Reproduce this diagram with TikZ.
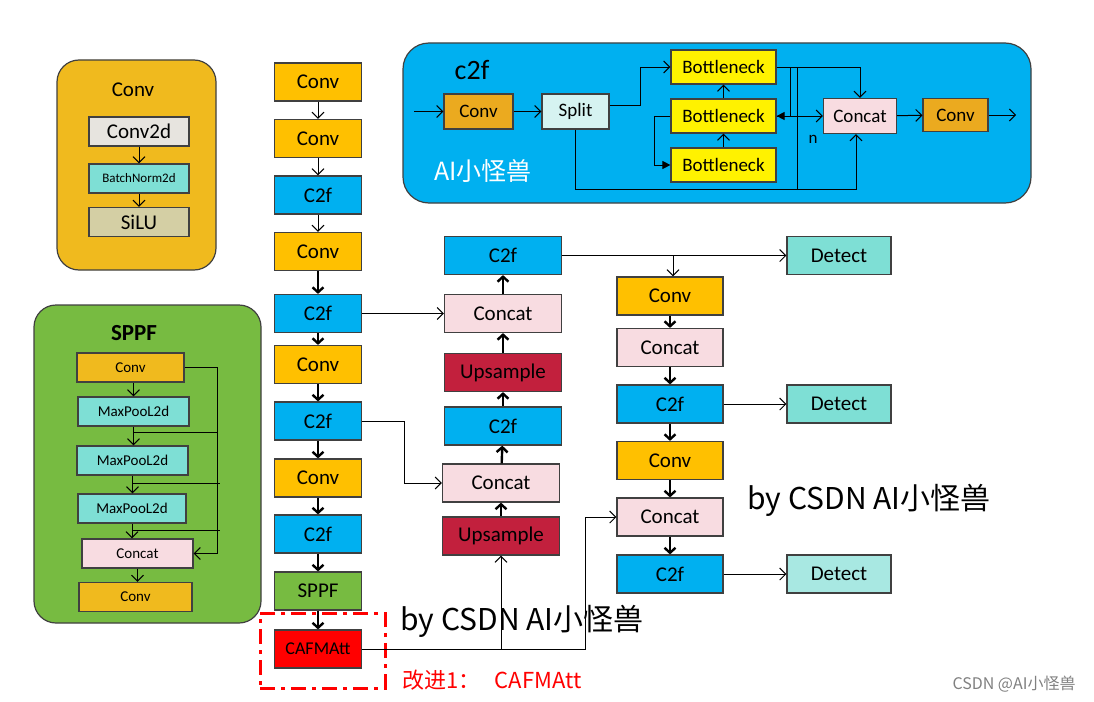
\documentclass[tikz,border=0pt]{standalone}
\usepackage{fontspec}
\setmainfont{Carlito}
\newfontfamily\cjk{Noto Sans CJK SC}
\usetikzlibrary{arrows.meta, calc}

\definecolor{convgold}{HTML}{FFC000}
\definecolor{leggold}{HTML}{F0BA1E}
\definecolor{c2fgold}{HTML}{EBAA1F}
\definecolor{c2fblue}{HTML}{00B0F0}
\definecolor{sppfgreen}{HTML}{77BB41}
\definecolor{catpink}{HTML}{F8DCE1}
\definecolor{upred}{HTML}{C2203D}
\definecolor{detcyan}{HTML}{7EDFD5}
\definecolor{detlight}{HTML}{A8E8E2}
\definecolor{convgray}{HTML}{E7E4DF}
\definecolor{silukhaki}{HTML}{D4CFA4}
\definecolor{splitcyan}{HTML}{D6F3F1}
\definecolor{edgegray}{HTML}{404040}

\tikzstyle{block} = [rectangle, draw=edgegray, line width=1.2pt, inner sep=0pt,
    text centered, font=\fontsize{21}{24}\selectfont]
\tikzstyle{main} = [block, minimum width=87pt, minimum height=38pt]
\tikzstyle{mid} = [block, minimum width=117pt, minimum height=38pt]
\tikzstyle{side} = [block, minimum width=106pt, minimum height=38pt]
\tikzstyle{det} = [block, minimum width=104pt, minimum height=38pt]
\tikzstyle{small} = [block, minimum height=29pt, font=\fontsize{15}{18}\selectfont]
\tikzstyle{inner} = [block, minimum height=34pt, font=\fontsize{19}{22}\selectfont]
\tikzstyle{panel} = [rectangle, rounded corners=22pt, draw=edgegray, line width=1.2pt]
\tikzstyle{line} = [line width=1pt]
\tikzstyle{thinarrow} = [line width=1pt, -{Straight Barb[length=6pt,width=12pt]}]
\tikzstyle{fatarrow} = [line width=2.4pt, -{Straight Barb[length=5pt,width=11pt]}]
\tikzstyle{fillarrow} = [line width=1pt, -{Triangle[length=8pt,width=8pt]}]
\tikzstyle{watermark} = [font=\cjk\fontsize{30}{34}\selectfont]

\begin{document}
\begin{tikzpicture}[x=1pt, y=-1pt]
\useasboundingbox (0,0) rectangle (1094,701);

% Conv legend
\node (legconv) [panel, fill=leggold, minimum width=159pt, minimum height=210pt] at (136.5,165) {};
\node (legconvtitle) [font=\fontsize{21}{24}\selectfont] at (133,90) {Conv};
\node (conv2d) [block, fill=convgray, minimum width=100pt, minimum height=29pt] at (139,131.5) {Conv2d};
\node (bnorm) [block, fill=detcyan, minimum width=100pt, minimum height=29pt,
    font=\fontsize{13}{15}\selectfont] at (139,178.5) {BatchNorm2d};
\node (silu) [block, fill=silukhaki, minimum width=100pt, minimum height=29pt,
    font=\fontsize{21}{24}\selectfont] at (139,222) {SiLU};
\draw [thinarrow] (conv2d) -- (bnorm);
\draw [thinarrow] (bnorm) -- (silu);

% SPPF legend
\node (legsppf) [panel, fill=sppfgreen, minimum width=227pt, minimum height=318pt] at (147.5,464) {};
\node (sppftitle) [font=\bfseries\fontsize{23}{26}\selectfont] at (134,333) {SPPF};
\node (sconv) [small, fill=leggold, minimum width=107pt] at (130.5,367.5) {Conv};
\node (smpa) [small, fill=detcyan, minimum width=111pt] at (133.5,411.5) {MaxPooL2d};
\node (smpb) [small, fill=detcyan, minimum width=111pt] at (132.5,460.5) {MaxPooL2d};
\node (smpc) [small, fill=detcyan, minimum width=108pt] at (132,508.5) {MaxPooL2d};
\node (scat) [small, fill=catpink, minimum width=111pt] at (137.5,553.5) {Concat};
\node (sconvb) [small, fill=leggold, minimum width=113pt] at (135.5,597) {Conv};
\coordinate (sbus) at (217,367.5);
\coordinate (sbusa) at (217,432);
\coordinate (sbusb) at (220,483);
\coordinate (sbusc) at (220,530);
\draw [thinarrow] (smpa.north |- sconv.south) -- (smpa.north);
\draw [thinarrow] (smpa.south) -- (smpa.south |- smpb.north);
\draw [thinarrow] (smpb.south) -- (smpb.south |- smpc.north);
\draw [thinarrow] (smpc.south) -- (smpc.south |- scat.north);
\draw [thinarrow] (scat.south) -- (scat.south |- sconvb.north);
\draw [thinarrow] (sconv.east) -- (sbus) |- (scat.east);
\draw [line] (smpa.south |- sbusa) -- (sbusa);
\draw [line] (smpb.south |- sbusb) -- (sbusb);
\draw [line] (smpc.south |- sbusc) -- (sbusc);

% c2f panel
\node (legc2f) [panel, rounded corners=26pt, fill=c2fblue, minimum width=628pt, minimum height=160pt] at (717,123) {};
\node (c2ftitle) [font=\fontsize{28}{32}\selectfont] at (472,70) {c2f};
\node (c2fmark) [font=\cjk\fontsize{25}{30}\selectfont, text=white] at (483,171) {AI小怪兽};
\node (cconv) [inner, fill=c2fgold, minimum width=69pt, minimum height=35pt] at (478.5,111.5) {Conv};
\node (csplit) [inner, fill=splitcyan, minimum width=67pt, minimum height=35pt] at (575.5,111.5) {Split};
\node (bneckA) [inner, fill=yellow, minimum width=105pt] at (723.5,67) {Bottleneck};
\node (bneckB) [inner, fill=yellow, minimum width=105pt] at (723.5,116) {Bottleneck};
\node (bneckC) [inner, fill=yellow, minimum width=105pt] at (723.5,165) {Bottleneck};
\node (ccat) [inner, fill=catpink, minimum width=73pt, minimum height=35pt] at (860,116) {Concat};
\node (cconvb) [inner, fill=c2fgold, minimum width=65pt, minimum height=33pt] at (955.5,115) {Conv};
\node (nlabel) [font=\fontsize{17}{20}\selectfont] at (813,139) {n};
\coordinate (cin) at (414,111.5);
\coordinate (cout) at (1016,115);
\coordinate (cbusA) at (790,67);
\coordinate (cbusB) at (797,67);
\coordinate (cbusC) at (797,189);
\coordinate (cloop) at (654,116);
\draw [thinarrow] (cin) -- (cconv);
\draw [thinarrow] (cconv) -- (csplit);
\draw [thinarrow] ($(csplit.east)+(0,-6)$) -- ++(31,0) |- (bneckA.west);
\draw [thinarrow] (bneckC) -- (bneckB);
\draw [thinarrow] (bneckB) -- (bneckA);
\draw [fillarrow] (bneckB.west) -- (cloop) |- (bneckC.west);
\draw [thinarrow] (bneckA.east) -| (ccat.north);
\draw [fillarrow] (cbusA) |- (bneckB.east);
\draw [line] (cbusB) -- (cbusC);
\draw [thinarrow] (bneckB.east) -- (ccat.west);
\draw [thinarrow] (csplit.south) -- ++(0,60) -| ($(ccat.south)+(-4,0)$);
\draw [thinarrow] (ccat) -- (cconvb);
\draw [thinarrow] (cconvb) -- (cout);

% backbone
\node (convA) [main, fill=convgold] at (318,82) {Conv};
\node (convB) [main, fill=convgold] at (318,138.5) {Conv};
\node (c2fA) [main, fill=c2fblue] at (318,195) {C2f};
\node (convC) [main, fill=convgold] at (318,251.5) {Conv};
\node (c2fB) [main, fill=c2fblue] at (318,313.5) {C2f};
\node (convD) [main, fill=convgold] at (318,364.5) {Conv};
\node (c2fC) [main, fill=c2fblue] at (318,421) {C2f};
\node (convE) [main, fill=convgold] at (318,478) {Conv};
\node (c2fD) [main, fill=c2fblue] at (318,534) {C2f};
\node (sppf) [main, fill=sppfgreen] at (318,591) {SPPF};
\node (cafm) [main, fill=red, font=\fontsize{18}{20}\selectfont] at (318,649) {CAFMAtt};
\node (hlbox) [draw=red, line width=3pt, dash pattern=on 15pt off 6pt on 4pt off 6pt,
    minimum width=125pt, minimum height=75pt] at (322.5,650.5) {};
\draw [thinarrow] (convA) -- (convB);
\draw [thinarrow] (convB) -- (c2fA);
\draw [thinarrow] (c2fA) -- (convC);
\draw [fatarrow] (convC) -- (c2fB);
\draw [fatarrow] (c2fB) -- (convD);
\draw [fatarrow] (convD) -- (c2fC);
\draw [fatarrow] (c2fC) -- (convE);
\draw [fatarrow] (convE) -- (c2fD);
\draw [fatarrow] (c2fD) -- (sppf);
\draw [fatarrow] (sppf) -- (cafm);

% neck
\node (mc2fA) [mid, fill=c2fblue] at (503,255.5) {C2f};
\node (mcatA) [mid, fill=catpink] at (503,313.5) {Concat};
\node (mupA) [mid, fill=upred] at (503,372.5) {Upsample};
\node (mc2fB) [mid, fill=c2fblue] at (503,426) {C2f};
\node (mcatB) [mid, fill=catpink] at (501,483) {Concat};
\node (mupB) [mid, fill=upred] at (501,536) {Upsample};
\draw [fatarrow] (mupB) -- (mcatB);
\draw [fatarrow] (mcatB) -- (mc2fB);
\draw [fatarrow] (mc2fB.north -| mupA.south) -- (mupA.south);
\draw [fatarrow] (mupA) -- (mcatA);
\draw [fatarrow] (mcatA) -- (mc2fA);
\draw [thinarrow] (c2fB.east) -- (mcatA.west);
\draw [thinarrow] (c2fC.east) -- ++(42,0) |- (mcatB.west);

% head
\node (rconvA) [side, fill=convgold] at (670,296) {Conv};
\node (rcatA) [side, fill=catpink] at (670,347.5) {Concat};
\node (rc2fA) [side, fill=c2fblue] at (670,404) {C2f};
\node (rconvB) [side, fill=convgold] at (670,460.5) {Conv};
\node (rcatB) [side, fill=catpink] at (670,517) {Concat};
\node (rc2fB) [side, fill=c2fblue] at (670,574) {C2f};
\node (detA) [det, fill=detcyan] at (839,255.5) {Detect};
\node (detB) [det, fill=detcyan] at (839,404) {Detect};
\node (detC) [det, fill=detlight] at (839,574) {Detect};
\coordinate (tap) at (673,255.5);
\draw [thinarrow] (mc2fA.east) -- (detA.west);
\draw [thinarrow] (tap) -- (tap |- rconvA.north);
\draw [fatarrow] (rconvA) -- (rcatA);
\draw [fatarrow] (rcatA) -- (rc2fA);
\draw [fatarrow] (rc2fA) -- (rconvB);
\draw [fatarrow] (rconvB) -- (rcatB);
\draw [fatarrow] (rcatB) -- (rc2fB);
\draw [thinarrow] (rc2fA) -- (detB);
\draw [thinarrow] (rc2fB) -- (detC);

% marks
\node (markA) [watermark] at (869,500) {by CSDN AI小怪兽};
\node (markB) [watermark] at (522,621) {by CSDN AI小怪兽};
\node (note) [font=\cjk\fontsize{22}{26}\selectfont, text=red] at (492,680) {改进1：\hspace{14pt}CAFMAtt};
\node (csdn) [font=\cjk\fontsize{16}{19}\selectfont, text=black!50] at (1014,684) {CSDN @AI小怪兽};

\draw [thinarrow] (cafm.east) -- ++(223,0) |- (rcatB.west);
\draw [thinarrow] (mupB.south |- cafm.east) -- (mupB.south);
\end{tikzpicture}
\end{document}
